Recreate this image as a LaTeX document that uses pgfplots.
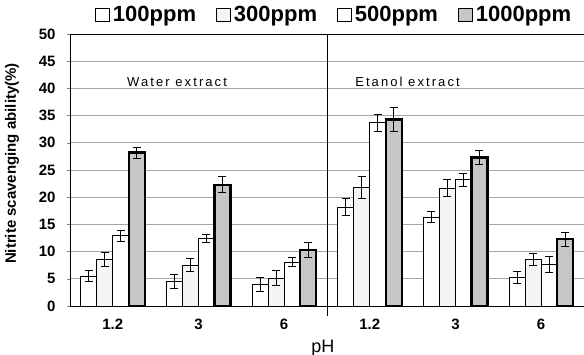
\documentclass[border=0pt]{standalone}
\usepackage{fontspec}
\setmainfont{Liberation Sans}
\usepackage{pgfplots}
\pgfplotsset{compat=1.18}
\usepackage{pgfplotstable}
\pgfplotstableread{
x y e
1 5.5 1.0
2 4.5 1.3
3 4.0 1.3
4 18.2 1.6
5 16.3 1.0
6 5.3 1.1
}\tA
\pgfplotstableread{
x y e
1 8.5 1.3
2 7.5 1.2
3 5.1 1.4
4 21.8 2.0
5 21.7 1.6
6 8.6 1.1
}\tB
\pgfplotstableread{
x y e
1 12.9 1.0
2 12.4 0.8
3 8.1 0.8
4 33.7 1.6
5 23.2 1.2
6 7.7 1.5
}\tC
\pgfplotstableread{
x y e
1 28.2 1.0
2 22.3 1.5
3 10.3 1.3
4 34.3 2.2
5 27.3 1.3
6 12.3 1.3
}\tD
\begin{document}
\begin{tikzpicture}
\begin{axis}[
  scale only axis,
  width=514pt, height=272pt,
  xmin=0.5, xmax=6.5,
  ymin=0, ymax=50,
  ytick={0,5,...,50},
  xtick={1,2,3,4,5,6},
  xticklabels={1.2,3,6,1.2,3,6},
  axis x line*=bottom,
  axis y line*=left,
  x axis line style={-},
  y axis line style={-},
  major x tick style={draw=none},
  extra x ticks={3.5},
  extra x tick labels={},
  extra x tick style={major tick length=10pt, tick align=outside, major x tick style={draw=black, line width=0.8pt}, xmajorgrids=false},
  tick align=outside,
  major tick length=3pt,
  ymajorgrids,
  grid style={gray!70, line width=0.6pt},
  /pgf/number format/assume math mode=true,
  yticklabel style={font=\bfseries\fontsize{15}{15}\selectfont, xshift=-8pt},
  xticklabel style={font=\bfseries\fontsize{15}{15}\selectfont, yshift=-6pt},
  ylabel={Nitrite scavenging ability(\%)},
  ylabel style={font=\bfseries\fontsize{15}{15}\selectfont, at={(axis description cs:-0.113,0.524)}, anchor=center},
  xlabel={pH},
  xlabel style={font=\fontsize{18}{18}\selectfont, at={(axis description cs:0.492,-0.154)}, anchor=center},
  ybar=0pt,
  bar width=16pt,
  error bars/y dir=both,
  error bars/y explicit,
  error bars/error bar style={line width=0.8pt, black},
  error bars/error mark options={rotate=90, mark size=4pt, line width=0.8pt, black},
  legend columns=4,
  legend style={at={(axis description cs:0.514,1.07)}, anchor=center, draw=none, fill=none,
    font=\bfseries\fontsize{22}{22}\selectfont,
    /tikz/every even column/.append style={column sep=18pt},
    /tikz/every odd column/.append style={column sep=1pt}},
  legend image code/.code={\draw[#1, line width=0.8pt] (0pt,-6.5pt) rectangle (14pt,6.5pt);},
  axis line style={line width=0.8pt},
  clip=false,
]
\addplot[draw=black, fill=white, line width=0.8pt] table[x=x,y=y,y error=e]{\tA};
\addplot[draw=black, fill=gray!8, line width=0.8pt] table[x=x,y=y,y error=e]{\tB};
\addplot[draw=black, fill=white, line width=0.8pt] table[x=x,y=y,y error=e]{\tC};
\addplot[draw=black, fill=gray!45, line width=2.2pt] table[x=x,y=y,y error=e]{\tD};
\legend{100ppm,300ppm,500ppm,1000ppm}
\draw[black, line width=0.8pt] (axis cs:3.5,0) -- (axis cs:3.5,50);
\draw[black, line width=0.8pt] (axis cs:0.5,50) -- (axis cs:6.5,50);
\node[font=\fontsize{13}{13}\selectfont\addfontfeature{LetterSpace=16}] at (axis cs:1.75,41.2) {Water extract};
\node[font=\fontsize{13}{13}\selectfont\addfontfeature{LetterSpace=16}] at (axis cs:4.44,41.2) {Etanol extract};
\end{axis}
\pgfresetboundingbox
\useasboundingbox (-70pt,-49pt) rectangle (514pt,306pt);
\end{tikzpicture}
\end{document}
